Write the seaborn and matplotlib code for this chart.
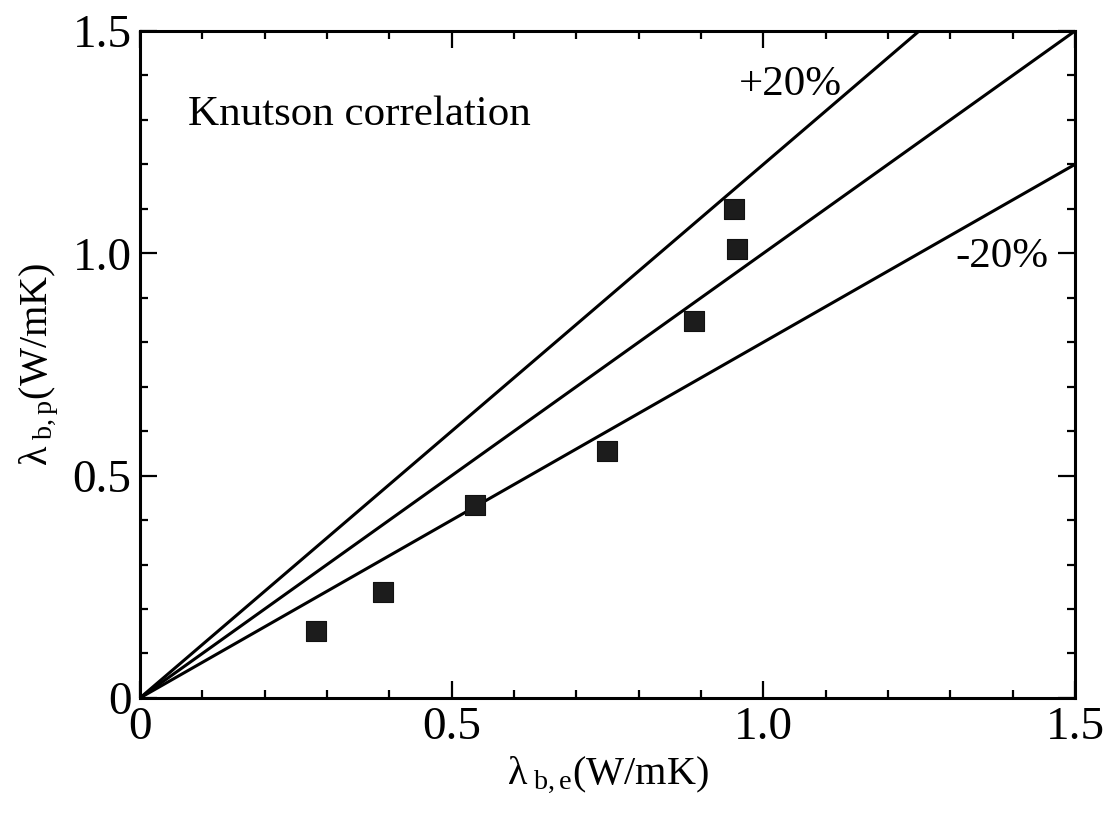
import matplotlib
matplotlib.use("Agg")
import matplotlib.pyplot as plt
import seaborn as sns
import pandas as pd

# measured vs predicted bed conductivity (W/mK)
lam_exp = [0.283, 0.390, 0.538, 0.750, 0.888, 0.958, 0.953]
lam_pred = [0.150, 0.238, 0.434, 0.555, 0.847, 1.009, 1.100]

# reference lines y = k * x
line_x = [0.0, 1.5]
slopes = [1.2, 1.0, 0.8]

sns.set_style("ticks")
plt.rcParams['font.family'] = ['Liberation Serif', 'DejaVu Serif']
plt.rcParams['mathtext.fontset'] = 'custom'
plt.rcParams['mathtext.rm'] = 'Liberation Serif'
plt.rcParams['mathtext.it'] = 'Liberation Serif:italic'
plt.rcParams['text.color'] = 'black'
plt.rcParams['axes.labelcolor'] = 'black'
plt.rcParams['xtick.color'] = 'black'
plt.rcParams['ytick.color'] = 'black'

fig = plt.figure(figsize=(11.11, 8.13), dpi=100)
ax = fig.add_axes([0.126, 0.1415, 0.8416, 0.8204])

lines = pd.DataFrame([(x, k * x, str(k)) for k in slopes for x in line_x],
                     columns=['x', 'y', 'k'])
sns.lineplot(data=lines, x='x', y='y', units='k', estimator=None,
             color='black', lw=2.2, ax=ax)

pts = pd.DataFrame({'exp': lam_exp, 'pred': lam_pred})
sns.scatterplot(data=pts, x='exp', y='pred', marker='s', s=200,
                color='#1c1c1c', edgecolor='#111111', linewidth=0.8,
                zorder=5, ax=ax)

ax.set_xlim(0, 1.5)
ax.set_ylim(0, 1.5)
ax.set_xticks([0, 0.5, 1.0, 1.5])
ax.set_xticklabels(['0', '0.5', '1.0', '1.5'])
ax.set_yticks([0, 0.5, 1.0, 1.5])
ax.set_yticklabels(['0', '0.5', '1.0', '1.5'])
ax.set_xticks([i / 10 for i in range(16)], minor=True)
ax.set_yticks([i / 10 for i in range(16)], minor=True)
ax.tick_params(which='both', direction='in', top=True, right=True,
               width=1.6, color='black', labelcolor='black')
ax.tick_params(which='major', length=12, labelsize=34, pad=6)
ax.tick_params(which='minor', length=6)
for s in ax.spines.values():
    s.set_linewidth(2.2)
    s.set_color('black')

ax.set_xlabel('λ$_{\\rm\\ b,e}$(W/mK)', fontsize=29, labelpad=4)
ax.set_ylabel('λ$_{\\rm\\ b,p}$(W/mK)', fontsize=29, labelpad=8)

ax.text(0.077, 1.288, 'Knutson correlation', fontsize=31, ha='left', va='baseline')
ax.text(0.96, 1.355, '+20%', fontsize=31, ha='left', va='baseline')
ax.text(1.308, 0.969, '-20%', fontsize=31, ha='left', va='baseline')

fig.savefig('out.png', dpi=100, facecolor='white')
